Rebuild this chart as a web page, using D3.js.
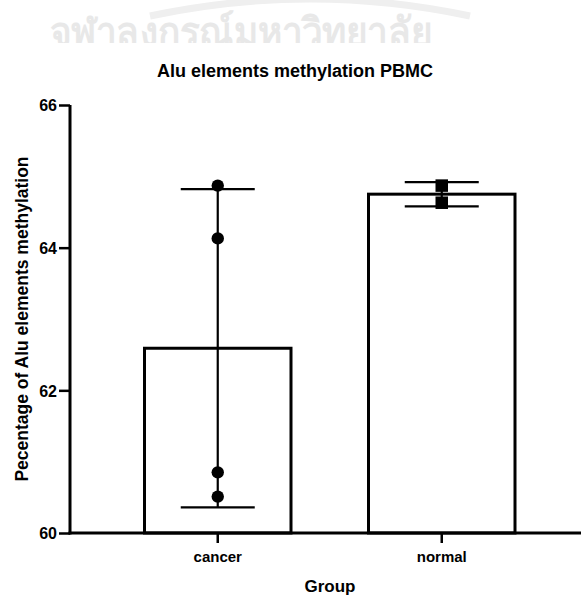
<!DOCTYPE html>
<html>
<head>
<meta charset="utf-8">
<script src="https://cdn.jsdelivr.net/npm/d3@7"></script>
<style>
html,body{margin:0;padding:0;background:#fff;}
svg{display:block;}
text{font-family:"Liberation Sans",Arial,Helvetica,sans-serif;font-weight:bold;fill:#000;}
</style>
</head>
<body>
<script>
const groups = ["cancer", "normal"];
const means = [62.59, 64.75];
const sds = [2.23, 0.17];
const cancerPoints = [64.87, 64.13, 60.85, 60.51];
const normalPoints = [64.87, 64.63];
const yTicks = [60, 62, 64, 66];
const title = "Alu elements methylation PBMC";
const xTitle = "Group";
const yTitle = "Pecentage of Alu elements methylation";
const watermark = "จุฬาลงกรณ์มหาวิทยาลัย";

const W = 581, H = 596;
const svg = d3.select("body").append("svg").attr("width", W).attr("height", H);

// watermark
const defs = svg.append("defs");
defs.append("clipPath").attr("id", "wm").append("rect")
  .attr("x", 0).attr("y", 0).attr("width", W).attr("height", 43);
const wm = svg.append("g").attr("clip-path", "url(#wm)");
wm.append("path")
  .attr("d", "M150,16 Q310,-18 470,16")
  .attr("fill", "none").attr("stroke", "#efefef").attr("stroke-width", 7);
wm.append("text").attr("x", 50).attr("y", 46).attr("text-anchor", "start")
  .style("font-size", "40px").style("font-family", "'Noto Sans','DejaVu Sans',sans-serif")
  .style("fill", "#e8e8e8").style("font-weight", "bold")
  .attr("textLength", 382).attr("lengthAdjust", "spacingAndGlyphs")
  .text(watermark);

const y = d3.scaleLinear().domain([60, 66]).range([533, 105]);
const x = d3.scaleBand().domain(groups).range([144.5, 515]).paddingInner(0.346).paddingOuter(0).align(0);
const bw = x.bandwidth();

// title
svg.append("text").attr("x", 295).attr("y", 77).attr("text-anchor", "middle")
  .style("font-size", "18px").text(title);

// bars
svg.selectAll("rect.bar").data(groups).enter().append("rect")
  .attr("class", "bar")
  .attr("x", d => x(d)).attr("width", bw)
  .attr("y", (d, i) => y(means[i])).attr("height", (d, i) => y(60) - y(means[i]))
  .attr("fill", "#fff").attr("stroke", "#000").attr("stroke-width", 3);

// error bars
const capW = 74;
groups.forEach((g, i) => {
  const cx = x(g) + bw / 2;
  const eg = svg.append("g").attr("stroke", "#000").attr("stroke-width", 2.2);
  eg.append("line").attr("x1", cx).attr("x2", cx).attr("y1", y(means[i] - sds[i])).attr("y2", y(means[i] + sds[i]));
  eg.append("line").attr("x1", cx - capW / 2).attr("x2", cx + capW / 2).attr("y1", y(means[i] + sds[i])).attr("y2", y(means[i] + sds[i]));
  eg.append("line").attr("x1", cx - capW / 2).attr("x2", cx + capW / 2).attr("y1", y(means[i] - sds[i])).attr("y2", y(means[i] - sds[i]));
});

// points
const cxC = x("cancer") + bw / 2;
svg.selectAll("circle.pt").data(cancerPoints).enter().append("circle")
  .attr("class", "pt").attr("cx", cxC).attr("cy", d => y(d)).attr("r", 6.2).attr("fill", "#000");
const cxN = x("normal") + bw / 2;
const sq = 12.5;
svg.selectAll("rect.pt").data(normalPoints).enter().append("rect")
  .attr("class", "pt").attr("x", cxN - sq / 2).attr("y", d => y(d) - sq / 2)
  .attr("width", sq).attr("height", sq).attr("fill", "#000");

// y axis
const yAxis = d3.axisLeft(y).tickValues(yTicks).tickFormat(d3.format("d")).tickSize(11).tickPadding(2);
const ya = svg.append("g").attr("transform", "translate(70,0)").call(yAxis);
ya.attr("font-weight", "bold").attr("font-size", 16).attr("font-family", "Liberation Sans, Arial, sans-serif");
ya.select(".domain").attr("stroke", "#000").attr("stroke-width", 3).attr("d", "M0,105V534.5");
ya.selectAll(".tick line").attr("stroke", "#000").attr("stroke-width", 2.5);
ya.selectAll(".tick text").style("font-size", "16px").style("font-weight", "700")
  .attr("dy", "0.36em");

// x axis
const xAxis = d3.axisBottom(x).tickSize(10).tickPadding(6);
const xa = svg.append("g").attr("transform", "translate(0,533)").call(xAxis);
xa.attr("font-weight", "bold").attr("font-size", 15).attr("font-family", "Liberation Sans, Arial, sans-serif");
xa.select(".domain").attr("stroke", "#000").attr("stroke-width", 3).attr("d", "M68.5,0H581");
xa.selectAll(".tick line").attr("stroke", "#000").attr("stroke-width", 2.5);
xa.selectAll(".tick text").style("font-size", "15px").style("font-weight", "700")
  .attr("dy", "0.85em");

// axis titles
svg.append("text").attr("x", 330).attr("y", 592).attr("text-anchor", "middle")
  .style("font-size", "17px").text(xTitle);
svg.append("text").attr("transform", "translate(28,319) rotate(-90)").attr("text-anchor", "middle")
  .style("font-size", "17.5px").text(yTitle);
</script>
</body>
</html>
